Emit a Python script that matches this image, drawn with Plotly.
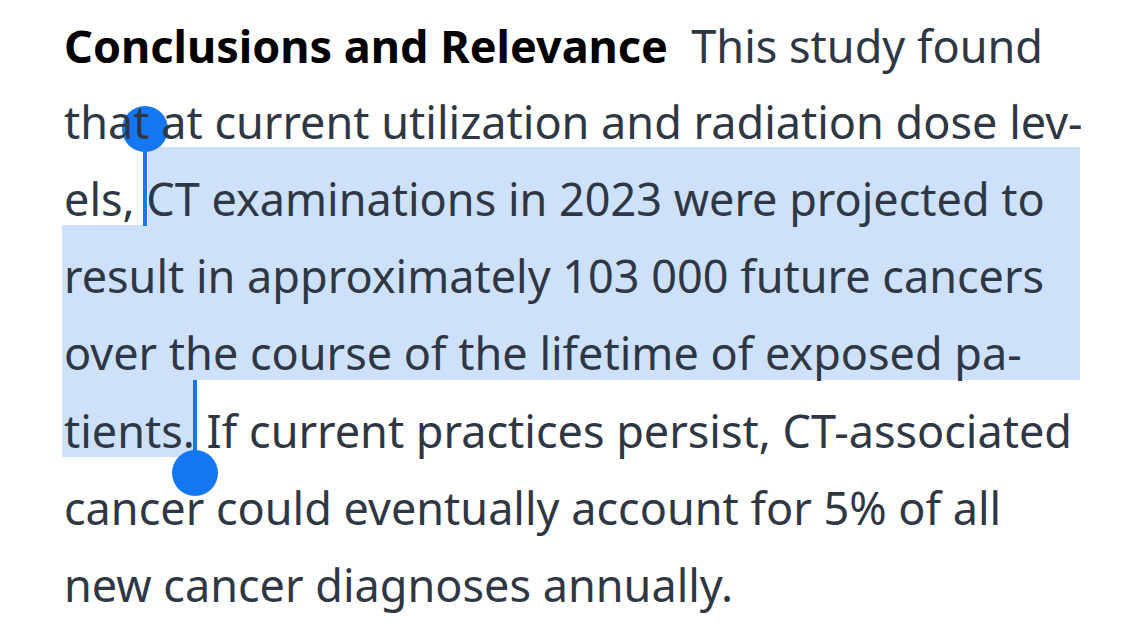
import plotly.graph_objects as go

# text lines, as wrapped in the screenshot
lines = [
    "<b><span style='color:#000000'>Conclusions and Relevance</span></b>  This study found",
    "that at current utilization and radiation dose lev-",
    "els, CT examinations in 2023 were projected to",
    "result in approximately 103 000 future cancers",
    "over the course of the lifetime of exposed pa-",
    "tients. If current practices persist, CT-associated",
    "cancer could eventually account for 5% of all",
    "new cancer diagnoses annually.",
]
line_y = [45, 121, 198, 275, 352, 430, 507, 584]

# selection highlight boxes (x0, x1, y0, y1)
sel_x0 = [148, 62, 62]
sel_x1 = [1080, 1080, 195]
sel_y0 = [147, 225, 380]
sel_y1 = [225, 380, 457]

# selection handles: circle centre, stem from/to
handle_x = [145, 195]
handle_y = [129, 473]
stem_y0 = [129, 380]
stem_y1 = [226, 462]

HL = "#cde1fb"
BLUE = "#1577f2"
TEXT = "#2f3744"

fig = go.Figure()
shapes = []
for x0, x1, y0, y1 in zip(sel_x0, sel_x1, sel_y0, sel_y1):
    shapes.append(dict(type="rect", x0=x0, x1=x1, y0=y0, y1=y1,
                       fillcolor=HL, line_width=0, layer="below"))
for hx, s0, s1 in zip(handle_x, stem_y0, stem_y1):
    shapes.append(dict(type="line", x0=hx, x1=hx, y0=s0, y1=s1,
                       line=dict(color=BLUE, width=4)))
for hx, hy in zip(handle_x, handle_y):
    shapes.append(dict(type="circle", x0=hx - 23, x1=hx + 23, y0=hy - 23, y1=hy + 23,
                       fillcolor=BLUE, line_width=0))

for txt, y in zip(lines, line_y):
    fig.add_annotation(x=62, y=y, text=txt, showarrow=False, xanchor="left",
                       yanchor="middle", font=dict(family="Noto Sans", size=45, color=TEXT))

# page body has an 8px margin, so shift the pixel ranges by 8
fig.update_layout(
    width=1125, height=632,
    margin=dict(l=0, r=0, t=0, b=0),
    paper_bgcolor="white", plot_bgcolor="white",
    shapes=shapes,
    xaxis=dict(range=[8, 1133], visible=False, fixedrange=True),
    yaxis=dict(range=[640, 8], visible=False, fixedrange=True),
    showlegend=False,
)
fig.write_html("out.html")
